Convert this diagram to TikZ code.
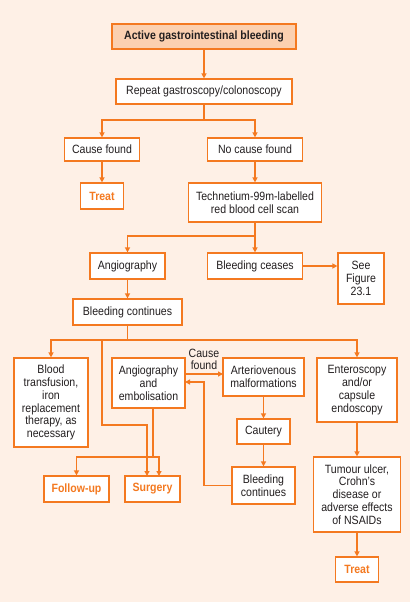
\documentclass[tikz,border=0pt]{standalone}
\usepackage{fontspec}
\setmainfont{Liberation Sans}[FakeStretch=0.88]
\usetikzlibrary{arrows.meta}
\definecolor{bg}{HTML}{FEF0E6}
\definecolor{org}{HTML}{F47920}
\definecolor{topfill}{HTML}{FBD0B0}
\definecolor{txt}{HTML}{231F20}
\begin{document}
\begin{tikzpicture}[x=1pt,y=-1pt,
  box/.style={draw=org, line width=1.2pt, fill=white, inner sep=0pt, align=center,
    text=txt, font=\fontsize{12}{12.8}\selectfont},
  outbox/.style={box, text=org, font=\fontsize{12}{12.8}\selectfont\bfseries},
  conn/.style={draw=org, line width=1.5pt},
  arr/.style={conn, -{Triangle[length=5pt,width=5pt]}},
  lbl/.style={text=txt, font=\fontsize{12}{12.2}\selectfont, align=center, inner sep=0pt}]
\fill[bg] (0,0) rectangle (410,602);
\useasboundingbox (0,0) rectangle (410,602);

\node[box, fill=topfill, font=\fontsize{12}{12.8}\selectfont\bfseries, minimum width=184pt, minimum height=25pt] (top) at (204,36.5) {Active gastrointestinal bleeding};
\node[box, minimum width=176pt, minimum height=25pt] (rep) at (204,91.5) {Repeat gastroscopy/colonoscopy};
\node[box, minimum width=75pt, minimum height=23pt] (cf) at (102,149.5) {Cause found};
\node[box, minimum width=95pt, minimum height=23pt] (ncf) at (255,149.5) {No cause found};
\node[outbox, minimum width=43pt, minimum height=26pt] (treat1) at (102,196) {Treat};
\node[box, minimum width=133pt, minimum height=39pt] (tech) at (255,202.5) {Technetium-99m-labelled\\red blood cell scan};
\node[box, minimum width=75pt, minimum height=26pt] (angio) at (127.5,266) {Angiography};
\node[box, minimum width=95pt, minimum height=26pt] (bcease) at (255,266) {Bleeding ceases};
\node[box, minimum width=46pt, minimum height=51pt] (see) at (361,278.5) {See\\Figure\\23.1};
\node[box, minimum width=109pt, minimum height=26pt] (bcont) at (127.5,312) {Bleeding continues};
\node[box, minimum width=74pt, minimum height=89pt] (blood) at (51,402.5) {Blood\\transfusion,\\iron\\replacement\\therapy, as\\necessary};
\node[box, minimum width=73pt, minimum height=50pt] (embol) at (148.5,383) {Angiography\\and\\embolisation};
\node[box, minimum width=81pt, minimum height=38pt] (avm) at (263.5,377) {Arteriovenous\\malformations};
\node[box, minimum width=53pt, minimum height=25pt] (caut) at (263.5,431.5) {Cautery};
\node[box, minimum width=63pt, minimum height=37pt] (bcont2) at (263.5,485.5) {Bleeding\\continues};
\node[box, minimum width=80pt, minimum height=64pt] (ent) at (357,390) {Enteroscopy\\and/or\\capsule\\endoscopy};
\node[box, minimum width=87pt, minimum height=75pt] (tum) at (357,494.5) {Tumour ulcer,\\Crohn's\\disease or\\adverse effects\\of NSAIDs};
\node[outbox, minimum width=43pt, minimum height=25pt] (treat2) at (357,569.5) {Treat};
\node[outbox, minimum width=65pt, minimum height=26pt] (follow) at (76.5,489) {Follow-up};
\node[outbox, minimum width=55pt, minimum height=26pt] (surg) at (152.5,489) {Surgery};
\node[lbl] (cflbl) at (204,359.5) {Cause\\found};

\coordinate (j1) at (204,120);
\coordinate (j2) at (255,236);
\coordinate (j3) at (127.5,340);
\coordinate (s1) at (102,340);
\coordinate (s2) at (102,425);
\coordinate (s3) at (147,425);
\coordinate (s4) at (147,476);
\coordinate (e1) at (153,408);
\coordinate (e2) at (153,457);
\coordinate (e3) at (159,476);
\coordinate (a1) at (185,374);
\coordinate (a2) at (223,374);
\coordinate (b1) at (204,485.5);
\coordinate (b2) at (204,382);
\coordinate (b3) at (185,382);

\draw[arr] (top) -- (rep);
\draw[conn] (rep) -- (j1);
\draw[arr] (j1) -| (cf);
\draw[arr] (j1) -| (ncf);
\draw[arr] (cf) -- (treat1);
\draw[arr] (ncf) -- (tech);
\draw[conn] (tech) -- (j2);
\draw[arr] (j2) -| (angio);
\draw[arr] (j2) -- (bcease);
\draw[arr] (bcease.east) -- (bcease.east -| see.west);
\draw[arr] (angio) -- (bcont);
\draw[conn] (bcont) -- (j3);
\draw[arr] (j3) -| (blood);
\draw[arr] (j3) -| (ent);
\draw[arr] (s1) -- (s2) -- (s3) -- (s4);
\draw[conn] (e1) -- (e2);
\draw[arr] (e2) -| (follow);
\draw[arr] (e2) -| (e3);
\draw[arr] (a1) -- (a2);
\draw[arr] (bcont2.west |- b1) -- (b1) -- (b2) -- (b3);
\draw[arr] (avm) -- (caut);
\draw[arr] (caut) -- (bcont2);
\draw[arr] (ent) -- (tum);
\draw[arr] (tum) -- (treat2);
\end{tikzpicture}
\end{document}
